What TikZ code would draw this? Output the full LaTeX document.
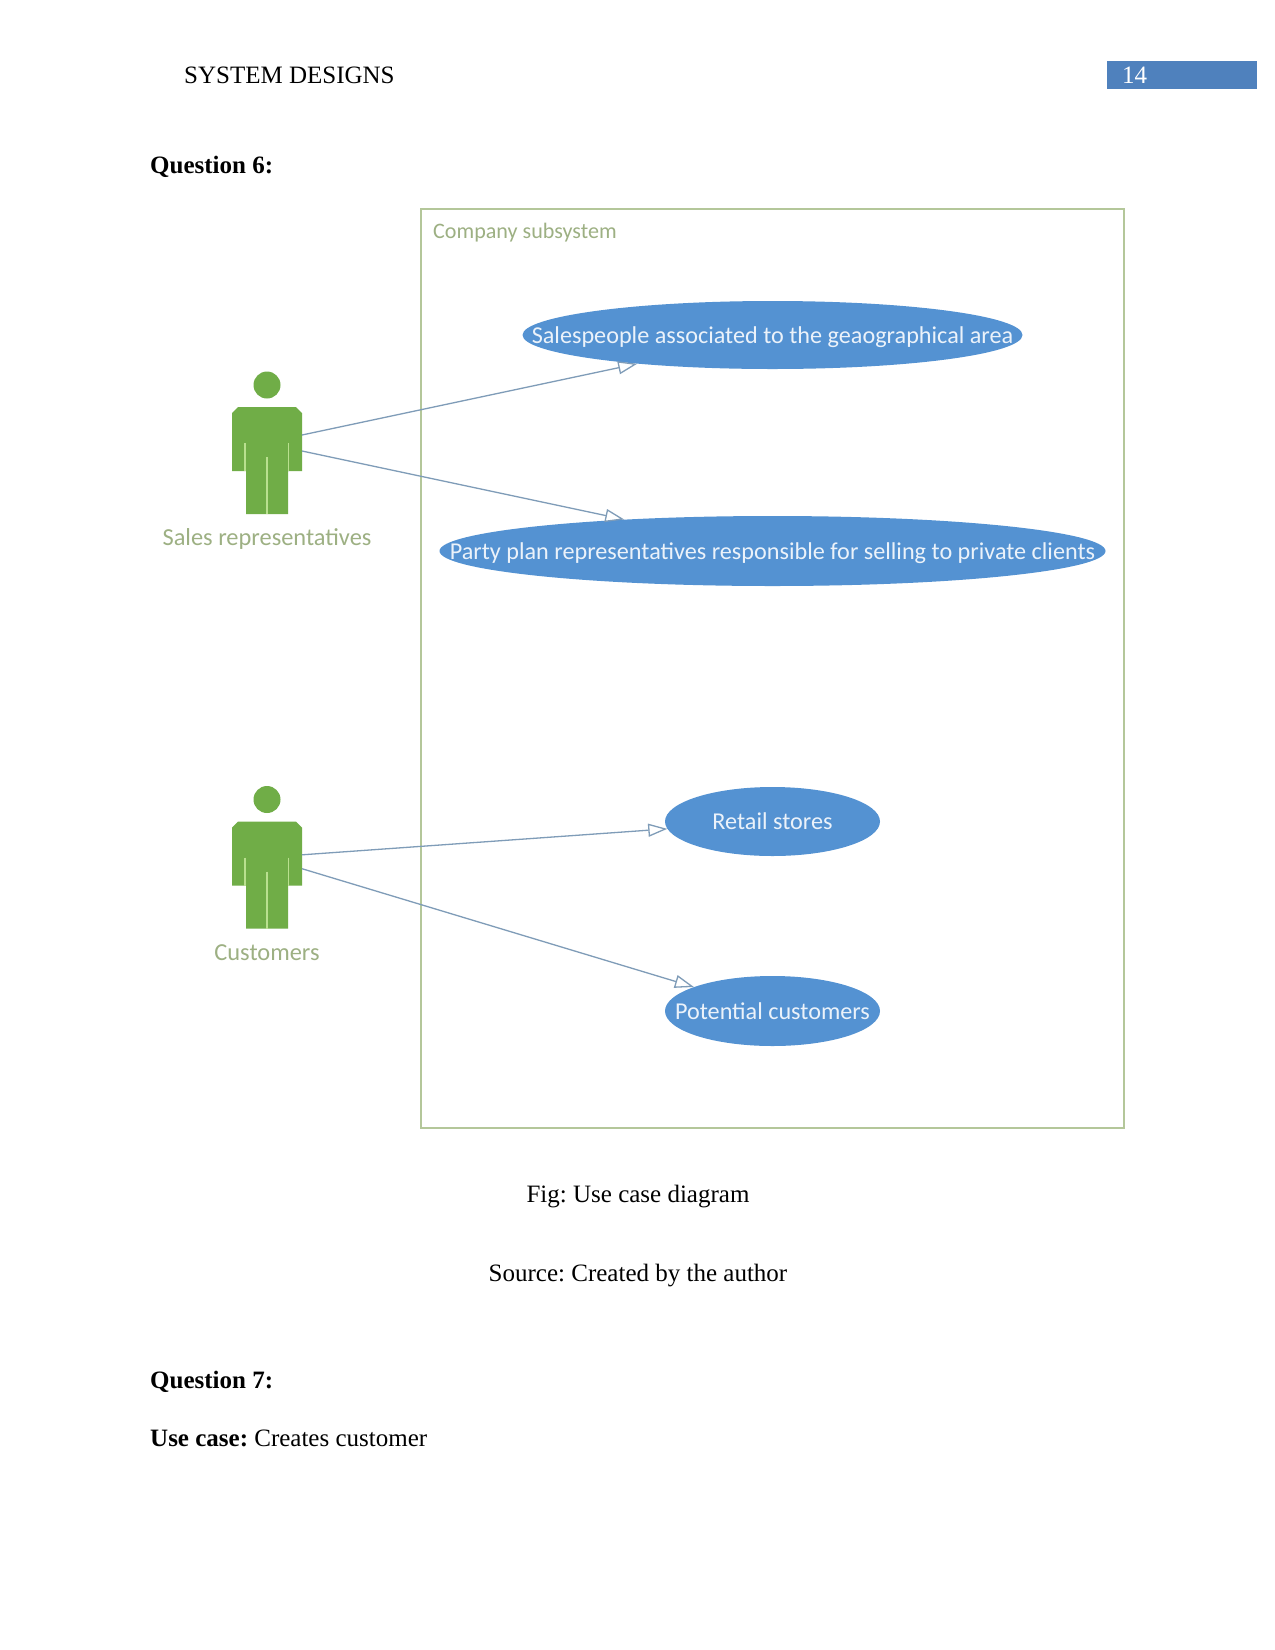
\documentclass[tikz,border=0pt]{standalone}
\usepackage{fontspec}
\setmainfont{Liberation Serif}
\newfontfamily\ucfont{Carlito}
\usetikzlibrary{arrows.meta}
\usetikzlibrary{shapes.geometric}
\definecolor{ucblue}{HTML}{5492D2}
\definecolor{ucgreen}{HTML}{70AD47}
\definecolor{ucframe}{HTML}{B4C79A}
\definecolor{uclabel}{HTML}{9DB083}
\definecolor{ucline}{HTML}{7F9CB8}
\definecolor{ucleaf}{HTML}{B9E08F}
\definecolor{pagebar}{HTML}{4F81BD}
\newcommand{\uctext}[1]{\makebox[0pt]{#1}}
\tikzset{
  actor/.pic={
    \fill[ucgreen] (0,0) circle (13.5);
    \fill[ucgreen] (-35,86)--(-35,28)--(-29,22)--(29,22)--(35,28)--(35,86)--(21,86)--(21,129)--(-21,129)--(-21,86)--cycle;
    \draw[ucleaf,line width=1.4pt] (-22,58)--(-22,86);
    \draw[ucleaf,line width=1.4pt] (21.5,58)--(21.5,86);
    \draw[ucleaf,line width=1.4pt] (0,72)--(0,129);
    \coordinate (-up) at (35,50);
    \coordinate (-down) at (35,66);
  }
}
\frenchspacing
\begin{document}
\begin{tikzpicture}[x=1pt,y=-1pt,
  usecase/.style={draw=none,fill=ucblue,ellipse,inner sep=0pt,text height=16pt,text depth=0pt,text=white!88!ucblue,font=\ucfont\fontsize{24.2}{28}\selectfont},
  actorname/.style={text=uclabel,font=\ucfont\fontsize{24.4}{28}\selectfont},
  pagetext/.style={inner sep=0pt,font=\fontsize{25}{30}\selectfont},
  assoc/.style={ucline,line width=1.3pt,-{Triangle[open,fill=white,length=19pt,width=13pt]}}]
  \useasboundingbox (0,0) rectangle (1275,1650);
  \fill[white] (0,0) rectangle (1275,1650);

  \node (head)[pagetext,anchor=base west] at (184,83){SYSTEM DESIGNS};
  \node (bar)[pagetext,anchor=north west,fill=pagebar,minimum width=150pt,minimum height=28pt] at (1106.5,61){};
  \node (page)[pagetext,anchor=base west,text=white] at (1122,83){14};
  \node (q6)[pagetext,anchor=base west] at (150,173){\bfseries Question 6:};

  \node (frame)[draw=ucframe,line width=2pt,anchor=north west,minimum width=703pt,minimum height=919pt,inner sep=0pt] at (420,207.6){};
  \node (title)[anchor=base west,inner sep=0pt,text=uclabel,font=\ucfont\fontsize{22.1}{25}\selectfont] at (433,238){Company subsystem};

  \node (sales)[usecase,minimum width=500pt,minimum height=68pt] at (772.5,335){\uctext{Salespeople associated to the geaographical area}};
  \node (party)[usecase,minimum width=666pt,minimum height=70pt] at (772.5,551){\uctext{Party plan representatives responsible for selling to private clients}};
  \node (retail)[usecase,minimum width=215pt,minimum height=69pt] at (772.5,821.5){\uctext{Retail stores}};
  \node (potential)[usecase,minimum width=215pt,minimum height=70pt] at (772.5,1011){\uctext{Potential customers}};

  \pic (rep) at (267,385) {actor};
  \pic (cust) at (267,799.5) {actor};
  \coordinate (custa) at ([yshift=-5.3pt]cust-up);
  \coordinate (custb) at ([yshift=-3.2pt]cust-down);
  \node (repname)[actorname] at (267,539){Sales representatives};
  \node (custname)[actorname] at (267,953){Customers};

  \draw[assoc](rep-up)--(sales.192);
  \draw[assoc](rep-down)--(party.168.15);
  \draw[assoc](custa)--(retail.184);
  \draw[assoc](custb)--(potential.163);

  \node (fig)[pagetext,anchor=base] at (638,1202){Fig: Use case diagram};
  \node (source)[pagetext,anchor=base] at (638,1281){Source: Created by the author};
  \node (q7)[pagetext,anchor=base west] at (150,1388){\bfseries Question 7:};
  \node (uc)[pagetext,anchor=base west] at (150,1446){\textbf{Use case:} Creates customer};
\end{tikzpicture}
\end{document}
